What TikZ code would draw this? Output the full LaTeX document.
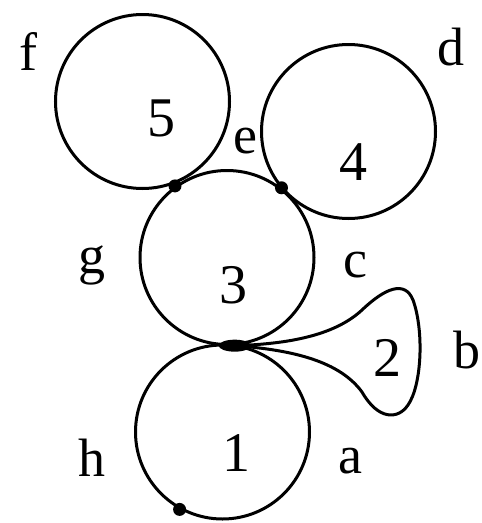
\documentclass[tikz,border=0pt]{standalone}
\usepackage{fontspec}
\setmainfont{Liberation Serif}
\usetikzlibrary{shapes.geometric}
\begin{document}
\begin{tikzpicture}[
  x=1pt,y=-1pt,
  ring/.style={circle,draw,line width=3pt,minimum size=174pt,inner sep=0pt},
  joint/.style={circle,fill,inner sep=0pt,minimum size=13pt},
  num/.style={font=\fontsize{56}{60}\selectfont,inner sep=0pt},
  tag/.style={font=\fontsize{54}{60}\selectfont,inner sep=0pt}
]
\useasboundingbox (0,0) rectangle (482,523);
% the four discs
\node[ring] (c5) at (142.5,101.5) {};
\node[ring] (c4) at (348.5,131.5) {};
\node[ring] (c3) at (227,257.5) {};
\node[ring] (c1) at (222.5,432) {};
% contact points
\coordinate (cusp) at (c3.-85);
\node[joint] (j53) at (c3.126) {};
\node[joint] (j34) at (c3.52) {};
\node[joint,ellipse,minimum width=32pt,minimum height=12pt] (j31) at (cusp) {};
\node[joint] (j1) at (c1.-119) {};
% the loop 2
\draw[line width=3pt] (cusp) .. controls (290,344) and (335,335) .. (362,310)
  .. controls (385,288) and (405,280) .. (413,300)
  .. controls (424,330) and (422,385) .. (408,405)
  .. controls (398,420) and (378,420) .. (362,392)
  .. controls (340,362) and (295,350) .. (cusp);
% numbers
\node[num] (n5) at (161,118) {5};
\node[num] (n4) at (353,162) {4};
\node[num] (n3) at (233,285) {3};
\node[num] (n2) at (387,358) {2};
\node[num] (n1) at (236,453) {1};
% letters
\node[tag] (la) at (350,461) {a};
\node[tag] (lb) at (467,350) {b};
\node[tag] (lc) at (355,265) {c};
\node[tag] (ld) at (451,47) {d};
\node[tag] (le) at (245,141) {e};
\node[tag] (lf) at (28,51) {f};
\node[tag] (lg) at (92,265) {g};
\node[tag] (lh) at (92,458) {h};
\end{tikzpicture}
\end{document}
